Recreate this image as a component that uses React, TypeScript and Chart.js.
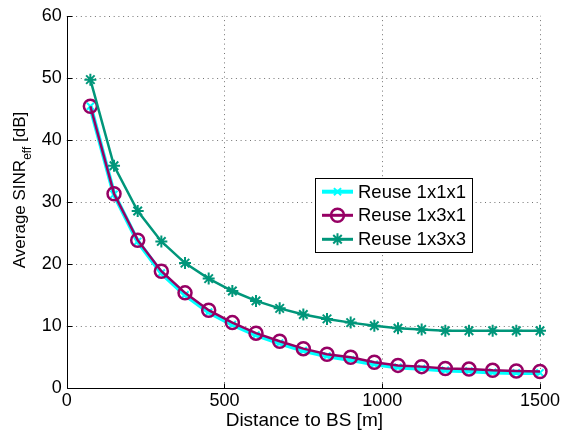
import React, { useEffect, useRef } from 'react';
import { Chart, registerables } from 'chart.js';

Chart.register(...registerables);

const distances = [75, 150, 225, 300, 375, 450, 525, 600, 675, 750, 825, 900, 975, 1050, 1125, 1200, 1275, 1350, 1425, 1500];
const reuse111 = [45.4, 31.2, 23.6, 18.5, 15.0, 12.2, 10.2, 8.5, 7.2, 6.0, 5.1, 4.5, 3.8, 3.3, 3.1, 2.8, 2.7, 2.5, 2.4, 2.4];
const reuse131 = [45.4, 31.3, 23.8, 18.8, 15.3, 12.5, 10.5, 8.8, 7.5, 6.3, 5.4, 4.9, 4.1, 3.6, 3.4, 3.1, 3.0, 2.8, 2.7, 2.6];
const reuse133 = [49.7, 35.8, 28.5, 23.6, 20.1, 17.6, 15.6, 14.0, 12.8, 11.8, 11.1, 10.5, 10.0, 9.6, 9.4, 9.2, 9.2, 9.2, 9.2, 9.2];
const xTicks = [0, 500, 1000, 1500];
const yTicks = [0, 10, 20, 30, 40, 50, 60];
const seriesNames = ['Reuse 1x1x1', 'Reuse 1x3x1', 'Reuse 1x3x3'];
const xTitle = 'Distance to BS [m]';
const yTitleMain = 'Average SINR';
const yTitleSub = 'eff';
const yTitleEnd = ' [dB]';

const CYAN = '#00ffff';
const PURPLE = '#960064';
const GREEN = '#00967a';
const FONT = '"Liberation Sans", Arial, Helvetica, sans-serif';

function drawMarker(ctx: CanvasRenderingContext2D, style: string, x: number, y: number, r: number, color: string, lw: number) {
  ctx.save();
  ctx.strokeStyle = color;
  ctx.lineWidth = lw;
  ctx.beginPath();
  if (style === 'circle') {
    ctx.arc(x, y, r, 0, Math.PI * 2);
  } else if (style === 'crossRot') {
    const d = r * Math.SQRT1_2;
    ctx.moveTo(x - d, y - d); ctx.lineTo(x + d, y + d);
    ctx.moveTo(x - d, y + d); ctx.lineTo(x + d, y - d);
  } else if (style === 'star') {
    const d = r * Math.SQRT1_2;
    ctx.moveTo(x - r, y); ctx.lineTo(x + r, y);
    ctx.moveTo(x, y - r); ctx.lineTo(x, y + r);
    ctx.moveTo(x - d, y - d); ctx.lineTo(x + d, y + d);
    ctx.moveTo(x - d, y + d); ctx.lineTo(x + d, y - d);
  }
  ctx.stroke();
  ctx.restore();
}

const legendItems = [
  { label: seriesNames[0], color: CYAN, style: 'crossRot', r: 5, lw: 2, lineW: 4 },
  { label: seriesNames[1], color: PURPLE, style: 'circle', r: 6.5, lw: 2.5, lineW: 3 },
  { label: seriesNames[2], color: GREEN, style: 'star', r: 6, lw: 2, lineW: 3 },
];

const gridPlugin = {
  id: 'gridPlugin',
  beforeDatasetsDraw(chart: any) {
    const ctx: CanvasRenderingContext2D = chart.ctx;
    const ca = chart.chartArea;
    const xs = chart.scales.x;
    const ys = chart.scales.y;
    ctx.save();
    ctx.strokeStyle = 'rgba(0,0,0,0.55)';
    ctx.lineWidth = 1;
    ctx.setLineDash([1, 3.7]);
    ctx.beginPath();
    yTicks.forEach((v) => {
      if (v === 0) return;
      const py = Math.round(ys.getPixelForValue(v)) + 0.5;
      ctx.moveTo(ca.left, py); ctx.lineTo(ca.right, py);
    });
    xTicks.forEach((v) => {
      if (v === 0) return;
      const px = Math.round(xs.getPixelForValue(v)) + 0.5;
      ctx.moveTo(px, ca.bottom); ctx.lineTo(px, ca.top);
    });
    ctx.stroke();
    ctx.setLineDash([]);
    // axes lines and inward ticks
    const lx = Math.round(ca.left) + 0.5;
    const by = Math.round(ca.bottom) + 0.5;
    ctx.strokeStyle = '#000';
    ctx.beginPath();
    ctx.moveTo(lx, Math.round(ca.top)); ctx.lineTo(lx, by);
    ctx.lineTo(Math.round(ca.right) + 1, by);
    yTicks.forEach((v) => {
      const py = Math.round(ys.getPixelForValue(v)) + 0.5;
      ctx.moveTo(lx, py); ctx.lineTo(lx + 5, py);
    });
    xTicks.forEach((v) => {
      const px = Math.round(xs.getPixelForValue(v)) + 0.5;
      ctx.moveTo(px, by); ctx.lineTo(px, by - 5);
    });
    ctx.stroke();
    ctx.restore();
  },
};

const customDraw = {
  id: 'customDraw',
  afterDraw(chart: any) {
    const ctx: CanvasRenderingContext2D = chart.ctx;
    const ca = chart.chartArea;
    ctx.save();
    // x title
    ctx.fillStyle = '#000';
    ctx.font = `19px ${FONT}`;
    ctx.textAlign = 'center';
    ctx.textBaseline = 'middle';
    ctx.fillText(xTitle, (ca.left + ca.right) / 2 + 1, 421);

    // y title with subscript
    ctx.save();
    ctx.translate(25, 190);
    ctx.rotate(-Math.PI / 2);
    ctx.textAlign = 'left';
    ctx.textBaseline = 'alphabetic';
    ctx.font = `17px ${FONT}`;
    const w1 = ctx.measureText(yTitleMain).width;
    const w3 = ctx.measureText(yTitleEnd).width;
    ctx.font = `12px ${FONT}`;
    const w2 = ctx.measureText(yTitleSub).width;
    const total = w1 + w2 + w3;
    let sx = -total / 2;
    ctx.font = `17px ${FONT}`;
    ctx.fillText(yTitleMain, sx, 0);
    sx += w1;
    ctx.font = `12px ${FONT}`;
    ctx.fillText(yTitleSub, sx, 6);
    sx += w2;
    ctx.font = `17px ${FONT}`;
    ctx.fillText(yTitleEnd, sx, 0);
    ctx.restore();

    // legend
    const bx = 315.5, by = 178.5, bw = 157, bh = 74;
    ctx.fillStyle = '#fff';
    ctx.fillRect(bx, by, bw, bh);
    ctx.strokeStyle = '#000';
    ctx.lineWidth = 1;
    ctx.strokeRect(bx, by, bw, bh);
    const rows = [191.7, 215.3, 239.3];
    legendItems.forEach((it, i) => {
      const y = rows[i];
      ctx.strokeStyle = it.color;
      ctx.lineWidth = it.lineW;
      ctx.beginPath();
      ctx.moveTo(322, y); ctx.lineTo(353, y);
      ctx.stroke();
      drawMarker(ctx, it.style, 337.5, y, it.r, it.color, it.lw);
      ctx.fillStyle = '#000';
      ctx.font = `18.5px ${FONT}`;
      ctx.textAlign = 'left';
      ctx.textBaseline = 'middle';
      ctx.fillText(it.label, 358, y + 1);
    });
    ctx.restore();
  },
};

export default function App() {
  const ref = useRef<HTMLCanvasElement>(null);
  useEffect(() => {
    document.body.style.margin = '0';
    const canvas = ref.current!;
    const mk = (vals: number[]) => distances.map((d, i) => ({ x: d, y: vals[i] }));
    const chart = new Chart(canvas, {
      type: 'line',
      data: {
        datasets: [
          {
            label: seriesNames[0], data: mk(reuse111), borderColor: CYAN, backgroundColor: 'transparent',
            borderWidth: 4.5, pointStyle: 'crossRot', pointRadius: 5, pointBorderWidth: 2, pointBorderColor: CYAN,
            tension: 0, clip: false, order: 2,
          },
          {
            label: seriesNames[1], data: mk(reuse131), borderColor: PURPLE, backgroundColor: 'transparent',
            borderWidth: 2.5, pointStyle: 'circle', pointRadius: 6.5, pointBorderWidth: 2.5, pointBorderColor: PURPLE,
            pointBackgroundColor: 'transparent', tension: 0, clip: false, order: 1,
          },
          {
            label: seriesNames[2], data: mk(reuse133), borderColor: GREEN, backgroundColor: 'transparent',
            borderWidth: 2.5, pointStyle: 'star', pointRadius: 6, pointBorderWidth: 2, pointBorderColor: GREEN,
            tension: 0, clip: false, order: 0,
          },
        ] as any,
      },
      options: {
        animation: false,
        responsive: false,
        devicePixelRatio: 1,
        layout: { padding: { left: 0, right: 21, top: 11.7, bottom: 0 } },
        plugins: { legend: { display: false }, tooltip: { enabled: false } },
        scales: {
          x: {
            type: 'linear', min: 0, max: 1500,
            afterBuildTicks: (s: any) => { s.ticks = xTicks.map((v) => ({ value: v })); },
            afterFit: (s: any) => { s.height = 46.3; },
            ticks: { color: '#000', font: { family: FONT, size: 18 }, padding: 3, maxRotation: 0, autoSkip: false, callback: (v: any) => String(v) },
            grid: { display: false, drawTicks: false },
            border: { display: false },
          },
          y: {
            type: 'linear', min: 0, max: 60,
            afterBuildTicks: (s: any) => { s.ticks = yTicks.map((v) => ({ value: v })); },
            afterFit: (s: any) => { s.width = 66.7; },
            ticks: { color: '#000', font: { family: FONT, size: 18 }, padding: 5, autoSkip: false, callback: (v: any) => String(v) },
            grid: { display: false, drawTicks: false },
            border: { display: false },
          },
        },
      },
      plugins: [gridPlugin, customDraw],
    });
    return () => chart.destroy();
  }, []);
  return <canvas ref={ref} width={563} height={434} style={{ display: 'block' }} />;
}
